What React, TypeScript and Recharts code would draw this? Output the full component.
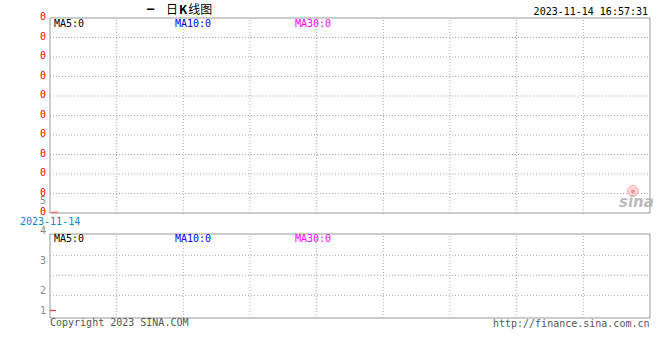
import React from 'react';
import { ComposedChart, XAxis, YAxis, Scatter, ReferenceArea, ReferenceLine } from 'recharts';

// ---- data ----
const dates = ['2023-11-14'];
const openPrices = [0];
const closePrices = [0];
const volumes = [1];

const xDomain = [0, 9];
const xGridTicks = [1, 2, 3, 4, 5, 6, 7, 8];

const priceDomain = [0, 10];
const priceGridTicks = [1, 2, 3, 4, 5, 6, 7, 8, 9];
const priceLabelTicks = [0, 1, 2, 3, 4, 5, 6, 7, 8, 9, 10, 0.62];
const priceTickLabels = ['0', '0', '0', '0', '0', '0', '0', '0', '0', '0', '0', '5'];

const volDomain = [0.625, 4.825];
const volGridTicks = [1.76, 2.76, 3.76];
const volLabelTicks = [1, 2, 3.5, 5];
const volTickLabels = ['1', '2', '3', '4'];

const maLabels = ['MA5:0', 'MA10:0', 'MA30:0'];
const timestamp = '2023-11-14 16:57:31';

const priceData = dates.map((d, i) => ({ idx: i, date: d, open: openPrices[i], close: closePrices[i] }));
const volData = dates.map((d, i) => ({ idx: i, date: d, vol: volumes[i] }));

const MONO = '"DejaVu Sans Mono", monospace';
const GRID = '#aaa';

const PriceTick = (props: any) => {
  const { x, y, payload, index } = props;
  const i = typeof index === 'number' ? index : priceLabelTicks.indexOf(payload.value);
  const label = priceTickLabels[i];
  const gray = label === '5';
  return (
    <text x={x} y={y} dy={gray ? 3.2 : 2.2} textAnchor="end" fontFamily={MONO} fontSize={10} fill={gray ? '#888' : '#ff0000'}>
      {label}
    </text>
  );
};

const VolTick = (props: any) => {
  const { x, y, payload, index } = props;
  const i = typeof index === 'number' ? index : volLabelTicks.indexOf(payload.value);
  return (
    <text x={x} y={y} dy={3.65} textAnchor="end" fontFamily={MONO} fontSize={10} fill="#888">
      {volTickLabels[i]}
    </text>
  );
};

const CandleDash = (props: any) => {
  const { cx, cy } = props;
  if (cx == null || cy == null) return null;
  return <line x1={cx + 1} x2={cx + 8} y1={cy - 0.5} y2={cy - 0.5} stroke="#ff6666" strokeWidth={1.5} />;
};

const VolDash = (props: any) => {
  const { cx, cy } = props;
  if (cx == null || cy == null) return null;
  return <line x1={cx} x2={cx + 6} y1={cy} y2={cy} stroke="#ee3333" strokeWidth={1.2} />;
};

function gridLines(hVals: number[]) {
  return [
    ...hVals.map((v) => (
      <ReferenceLine key={'h' + v} y={v} stroke={GRID} strokeDasharray="1 2" strokeWidth={1} />
    )),
    ...xGridTicks.map((v) => (
      <ReferenceLine key={'v' + v} x={v} stroke={GRID} strokeDasharray="1 2" strokeWidth={1} />
    )),
  ];
}

export default function App() {
  return (
    <div style={{ position: 'absolute', left: 0, top: 0, width: 660, height: 360, background: '#fff', overflow: 'hidden' }}>
      <div style={{ position: 'absolute', left: 0, top: 0 }}>
        <ComposedChart width={660} height={220} data={priceData} margin={{ top: 18, right: 10, bottom: 7, left: 0 }}>
          <XAxis dataKey="idx" type="number" domain={xDomain} ticks={xGridTicks} height={0} tick={false} axisLine={false} tickLine={false} allowDataOverflow />
          <YAxis domain={priceDomain} ticks={priceLabelTicks} width={50} axisLine={false} tickLine={false} tickSize={4} tickMargin={0} interval={0} tick={<PriceTick />} allowDataOverflow />
          {gridLines(priceGridTicks)}
          <ReferenceArea x1={xDomain[0]} x2={xDomain[1]} y1={priceDomain[0]} y2={priceDomain[1]} fill="none" fillOpacity={0} stroke="#999" strokeWidth={1} ifOverflow="visible" />
          <Scatter dataKey="close" shape={<CandleDash />} isAnimationActive={false} />
        </ComposedChart>
      </div>
      <div style={{ position: 'absolute', left: 0, top: 220 }}>
        <ComposedChart width={660} height={100} data={volData} margin={{ top: 14, right: 10, bottom: 2, left: 0 }}>
          <XAxis dataKey="idx" type="number" domain={xDomain} ticks={xGridTicks} height={0} tick={false} axisLine={false} tickLine={false} allowDataOverflow />
          <YAxis domain={volDomain} ticks={volLabelTicks} width={50} axisLine={false} tickLine={false} tickSize={4} tickMargin={0} interval={0} tick={<VolTick />} allowDataOverflow />
          {gridLines(volGridTicks)}
          <ReferenceArea x1={xDomain[0]} x2={xDomain[1]} y1={volDomain[0]} y2={volDomain[1]} fill="none" fillOpacity={0} stroke="#999" strokeWidth={1} ifOverflow="visible" />
          <Scatter dataKey="vol" shape={<VolDash />} isAnimationActive={false} />
        </ComposedChart>
      </div>
      <svg width={660} height={360} style={{ position: 'absolute', left: 0, top: 0, pointerEvents: 'none' }}>
        <text x={147} y={13} fontFamily={MONO} fontSize={12} fontWeight="bold" fill="#000">–</text>
        <text x={166} y={13.5} fontFamily='"Noto Sans CJK SC", sans-serif' fontSize={12} fill="#000">
          日<tspan fontWeight="bold" dx={1}>K</tspan><tspan dx={1}>线图</tspan>
        </text>
        <text x={648} y={15} textAnchor="end" fontFamily={MONO} fontSize={10} fill="#000">{timestamp}</text>
        <text x={54} y={27} fontFamily={MONO} fontSize={10} fill="#000">{maLabels[0]}</text>
        <text x={175} y={27} fontFamily={MONO} fontSize={10} fill="#0000ff">{maLabels[1]}</text>
        <text x={295} y={27} fontFamily={MONO} fontSize={10} fill="#ff00ff">{maLabels[2]}</text>
        <text x={20} y={224.5} fontFamily={MONO} fontSize={10} fill="#0a88d0">{dates[0]}</text>
        <text x={54} y={242} fontFamily={MONO} fontSize={10} fill="#000">{maLabels[0]}</text>
        <text x={175} y={242} fontFamily={MONO} fontSize={10} fill="#0000ff">{maLabels[1]}</text>
        <text x={295} y={242} fontFamily={MONO} fontSize={10} fill="#ff00ff">{maLabels[2]}</text>
        <text x={50} y={326} fontFamily={MONO} fontSize={10} fill="#555">Copyright 2023 SINA.COM</text>
        <text x={649.5} y={326.5} textAnchor="end" fontFamily={MONO} fontSize={10} fill="#555">http://finance.sina.com.cn</text>
        <g opacity={0.85}>
          <circle cx={633} cy={191} r={5.5} fill="#fbd0d0" stroke="#f4a0a0" strokeWidth={1} />
          <circle cx={633} cy={191.5} r={2} fill="#f08080" />
          <text x={619} y={207} fontFamily='"DejaVu Sans", sans-serif' fontSize={15} fontStyle="italic" fontWeight="bold" fill="#b0b0b0">sina</text>
        </g>
      </svg>
    </div>
  );
}
